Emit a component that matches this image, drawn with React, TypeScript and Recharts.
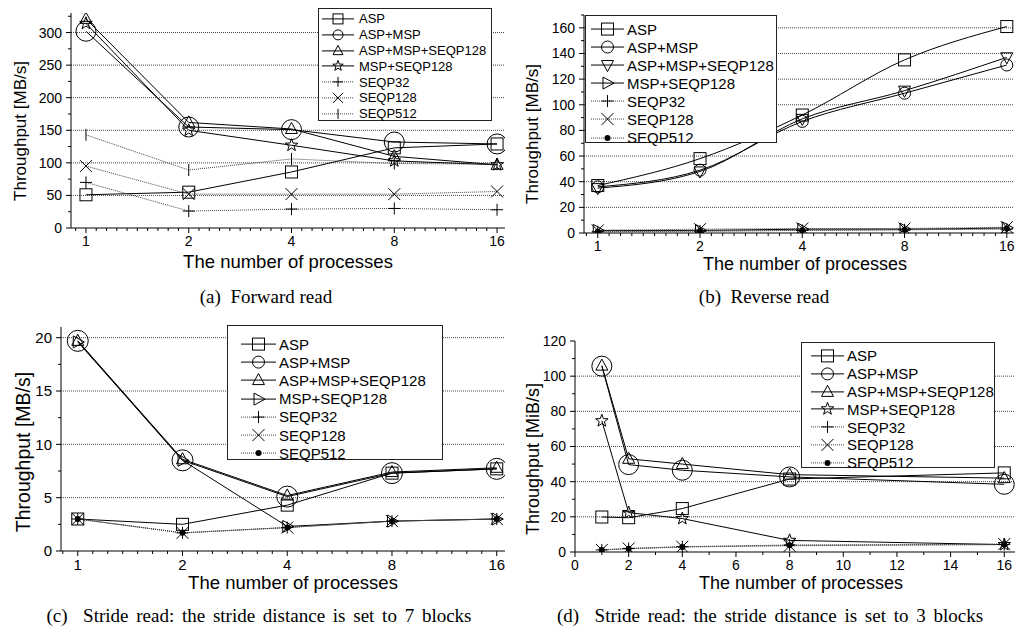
import React from 'react';
import { LineChart, Line, XAxis, YAxis, ReferenceLine } from 'recharts';

const PROCESSES = [1, 2, 4, 8, 16];
const SERIES_NAMES = ['ASP', 'ASP+MSP', 'ASP+MSP+SEQP128', 'MSP+SEQP128', 'SEQP32', 'SEQP128', 'SEQP512'];

// (a) forward read [MB/s]
const fwdAsp = [51, 55, 86, 123, 129];
const fwdAspMsp = [302, 155, 151, 132, 129];
const fwdAspMspSeq = [321, 162, 152, 110, 97];
const fwdMspSeq = [314, 150, 127, 103, 97];
const fwdSeq32 = [70, 26, 29, 30, 28];
const fwdSeq128 = [95, 52, 52, 52, 56];
const fwdSeq512 = [143, 89, 106, 99, 98];

// (b) reverse read [MB/s]
const revAsp = [37, 58, 92, 135, 161];
const revAspMsp = [36, 49, 87, 109, 131];
const revAspMspSeq = [35, 48, 89, 111, 137];
const revMspSeq = [2, 2, 3, 3, 4];
const revSeq32 = [1, 1.5, 2, 2.5, 3];
const revSeq128 = [2, 3, 3.5, 3.5, 4.5];
const revSeq512 = [1, 1.5, 2, 2.5, 3.5];

// (c) stride read, distance 7 blocks [MB/s]
const s7Asp = [3.0, 2.5, 4.3, 7.3, 7.7];
const s7AspMsp = [19.7, 8.5, 5.1, 7.3, 7.7];
const s7AspMspSeq = [19.7, 8.6, 5.2, 7.4, 7.8];
const s7MspSeq = [19.6, 8.5, 2.3, 2.8, 3.0];
const s7Seq32 = [3.0, 1.7, 2.2, 2.8, 3.0];
const s7Seq128 = [3.0, 1.7, 2.2, 2.8, 3.0];
const s7Seq512 = [3.0, 1.7, 2.2, 2.8, 3.0];

// (d) stride read, distance 3 blocks [MiB/s]
const s3Asp = [19.9, 19.5, 24.7, 41.5, 45];
const s3AspMsp = [105.7, 49.7, 46.5, 42.7, 38.5];
const s3AspMspSeq = [106, 53, 50, 44, 42];
const s3MspSeq = [74.6, 22.4, 19, 6.6, 4.2];
const s3Seq32 = [1.2, 2, 3, 4, 4.2];
const s3Seq128 = [1.2, 2, 3, 3.5, 4.5];
const s3Seq512 = [1.2, 1.8, 2.8, 3.8, 4.2];

const LOG_TICKS = [1, 2, 4, 8, 16];
const LIN_TICKS = [0, 2, 4, 6, 8, 10, 12, 14, 16];

const FONT = "'Liberation Sans', Arial, Helvetica, sans-serif";
const SERIF = "'Liberation Serif', 'Times New Roman', serif";

type Shape = 'square' | 'circle' | 'triUp' | 'triDown' | 'triRight' | 'star' | 'plus' | 'cross' | 'tick' | 'dot';

function Marker({ shape, cx, cy, s, r }: { shape: Shape; cx: number; cy: number; s: number; r: number }) {
  const st = { stroke: '#000', strokeWidth: 1, fill: 'none' };
  switch (shape) {
    case 'square':
      return <rect x={cx - s} y={cy - s} width={2 * s} height={2 * s} {...st} />;
    case 'circle':
      return <circle cx={cx} cy={cy} r={r} {...st} />;
    case 'triUp':
      return <polygon points={`${cx},${cy - s * 1.1} ${cx + s},${cy + s * 0.75} ${cx - s},${cy + s * 0.75}`} {...st} />;
    case 'triDown':
      return <polygon points={`${cx},${cy + s * 1.1} ${cx + s},${cy - s * 0.75} ${cx - s},${cy - s * 0.75}`} {...st} />;
    case 'triRight':
      return <polygon points={`${cx + s * 1.1},${cy} ${cx - s * 0.75},${cy - s} ${cx - s * 0.75},${cy + s}`} {...st} />;
    case 'star': {
      const pts: string[] = [];
      for (let i = 0; i < 10; i++) {
        const rad = i % 2 === 0 ? s * 1.1 : s * 0.45;
        const a = -Math.PI / 2 + (i * Math.PI) / 5;
        pts.push(`${cx + rad * Math.cos(a)},${cy + rad * Math.sin(a)}`);
      }
      return <polygon points={pts.join(' ')} {...st} />;
    }
    case 'plus':
      return <path d={`M${cx - s},${cy}H${cx + s}M${cx},${cy - s}V${cy + s}`} {...st} />;
    case 'cross':
      return <path d={`M${cx - s},${cy - s}L${cx + s},${cy + s}M${cx + s},${cy - s}L${cx - s},${cy + s}`} {...st} />;
    case 'tick':
      return <path d={`M${cx},${cy - s}V${cy + s}`} {...st} />;
    case 'dot':
      return <circle cx={cx} cy={cy} r={3} fill="#000" />;
  }
  return null;
}

function XTick(props: any) {
  const { x, y, payload, major, fs } = props;
  const isMajor = major.includes(payload.value);
  const ay = y - 8;
  return (
    <g>
      <line x1={x} x2={x} y1={ay} y2={ay + (isMajor ? 5 : 3)} stroke="#000" />
      {isMajor && (
        <text x={x} y={y} dy="0.71em" textAnchor="middle" fontSize={fs} fontFamily={FONT} fill="#000">
          {payload.value}
        </text>
      )}
    </g>
  );
}

function YTick(props: any) {
  const { x, y, payload, major, fs } = props;
  const isMajor = major.includes(payload.value);
  const ax = x + 9;
  return (
    <g>
      <line x1={ax - (isMajor ? 5 : 3)} x2={ax} y1={y} y2={y} stroke="#000" />
      {isMajor && (
        <text x={x} y={y} dy="0.355em" textAnchor="end" fontSize={fs} fontFamily={FONT} fill="#000">
          {payload.value}
        </text>
      )}
    </g>
  );
}

function logMinor(perOctave: number, lo: number, hi: number) {
  const out: number[] = [];
  for (let k = -1; k < 5; k++) {
    for (let j = 1; j < perOctave; j++) {
      const v = Math.pow(2, k + j / perOctave);
      if (v > lo && v < hi) out.push(v);
    }
  }
  return out;
}

type LegendBox = { left: number; top: number; width: number; height: number; padTop: number; rowH: number; lx0: number; lx1: number; textX: number; fontSize: number; ms: number; mr: number };
type Fonts = { tick: number; yLabel: number; xLabel: number };

type PanelProps = {
  x: number; y: number; w: number; h: number;
  margin: { top: number; right: number; bottom: number; left: number };
  logX: boolean; xDomain: [number, number]; xMajor: number[]; xMinor: number[];
  yDomain: [number, number]; yMajor: number[]; yMinor: number[]; grid: number[];
  series: number[][]; shapes: Shape[]; circleR: number; curve: 'linear' | 'monotone';
  legend: LegendBox; fonts: Fonts;
  yLabel: string; yLabelPos: [number, number]; xLabelPos: [number, number];
  caption: string; captionPos: [number, number]; wordSpacing: number;
};

function Panel(p: PanelProps) {
  const rows = PROCESSES.map((n, i) => {
    const r: Record<string, number> = { n };
    p.series.forEach((s, k) => { r['s' + k] = s[i]; });
    return r;
  });
  const lg = p.legend;
  return (
    <>
      <div style={{ position: 'absolute', left: p.x, top: p.y }}>
        <LineChart width={p.w} height={p.h} data={rows} margin={p.margin}>
          <XAxis dataKey="n" type="number" scale={p.logX ? 'log' : 'linear'} domain={p.xDomain} allowDataOverflow
            ticks={[...p.xMajor, ...p.xMinor]} interval={0} tickSize={4} tickMargin={4} tickLine={false}
            axisLine={{ stroke: '#000' }} height={22} tick={(t: any) => <XTick {...t} major={p.xMajor} fs={p.fonts.tick} />} />
          <YAxis type="number" domain={p.yDomain} allowDataOverflow ticks={[...p.yMajor, ...p.yMinor]} interval={0}
            width={46} tickSize={4} tickMargin={5} tickLine={false} axisLine={{ stroke: '#000' }}
            tick={(t: any) => <YTick {...t} major={p.yMajor} fs={p.fonts.tick} />} />
          {p.grid.map((v) => (
            <ReferenceLine key={v} y={v} stroke="#444" strokeDasharray="1 1" />
          ))}
          {p.series.map((_, k) => {
            const dotted = k >= 4;
            return (
              <Line key={k} dataKey={'s' + k} name={SERIES_NAMES[k]} type={dotted ? 'linear' : p.curve}
                stroke={dotted ? '#444' : '#000'} strokeWidth={1} strokeDasharray={dotted ? '1 1' : undefined}
                isAnimationActive={false} activeDot={false}
                dot={(d: any) => (
                  <g key={`d${k}-${d.index}`}>
                    <Marker shape={p.shapes[k]} cx={d.cx} cy={d.cy} s={6} r={p.circleR} />
                  </g>
                )} />
            );
          })}
        </LineChart>
      </div>
      <div style={{ position: 'absolute', left: lg.left, top: lg.top, width: lg.width, height: lg.height, boxSizing: 'border-box',
        border: '1px solid #222', background: '#fff', paddingTop: lg.padTop, fontFamily: FONT, fontSize: lg.fontSize }}>
        {SERIES_NAMES.map((name, k) => {
          const dotted = k >= 4;
          const mid = (lg.lx0 + lg.lx1) / 2;
          return (
            <div key={name} style={{ height: lg.rowH, display: 'flex', alignItems: 'center', whiteSpace: 'nowrap' }}>
              <svg width={lg.textX} height={lg.rowH} style={{ flex: 'none' }}>
                <line x1={lg.lx0} x2={lg.lx1} y1={lg.rowH / 2} y2={lg.rowH / 2} stroke={dotted ? '#444' : '#000'}
                  strokeDasharray={dotted ? '1 1' : undefined} />
                <Marker shape={p.shapes[k]} cx={mid} cy={lg.rowH / 2} s={lg.ms} r={lg.mr} />
              </svg>
              <span>{name}</span>
            </div>
          );
        })}
      </div>
      <div style={{ position: 'absolute', left: p.yLabelPos[0], top: p.yLabelPos[1], transform: 'translate(-50%, -50%) rotate(-90deg)',
        fontFamily: FONT, fontSize: p.fonts.yLabel, whiteSpace: 'nowrap' }}>{p.yLabel}</div>
      <div style={{ position: 'absolute', left: p.xLabelPos[0], top: p.xLabelPos[1], transform: 'translate(-50%, -50%)',
        fontFamily: FONT, fontSize: p.fonts.xLabel, lineHeight: 1, whiteSpace: 'nowrap' }}>The number of processes</div>
      <div style={{ position: 'absolute', left: p.captionPos[0], top: p.captionPos[1], transform: 'translate(-50%, -50%)',
        fontFamily: SERIF, fontSize: 19, whiteSpace: 'pre', wordSpacing: p.wordSpacing }}>{p.caption}</div>
    </>
  );
}

export default function App() {
  const range = (a: number, b: number, step: number) => {
    const out: number[] = [];
    for (let v = a; v <= b + 1e-9; v += step) out.push(v);
    return out;
  };
  return (
    <div style={{ position: 'absolute', left: 0, top: 0, width: 1016, height: 632, background: '#fff', overflow: 'hidden' }}>
      <Panel x={0} y={0} w={508} h={250} margin={{ top: 13, right: 3, bottom: 0, left: 25 }}
        logX xDomain={[0.904, 16.88]} xMajor={LOG_TICKS} xMinor={logMinor(10, 0.904, 16.88)}
        yDomain={[0, 330]} yMajor={range(0, 300, 50)} yMinor={range(25, 325, 50)} grid={range(50, 300, 50)}
        series={[fwdAsp, fwdAspMsp, fwdAspMspSeq, fwdMspSeq, fwdSeq32, fwdSeq128, fwdSeq512]}
        shapes={['square', 'circle', 'triUp', 'star', 'plus', 'cross', 'tick']} circleR={10} curve="linear"
        legend={{ left: 318, top: 8, width: 174, height: 113, padTop: 2, rowH: 15.8, lx0: 3, lx1: 35, textX: 40, fontSize: 13, ms: 5, mr: 5 }}
        fonts={{ tick: 14, yLabel: 17, xLabel: 18.5 }}
        yLabel="Throughput [MB/s]" yLabelPos={[21, 131]} xLabelPos={[288, 262]}
        caption="(a)  Forward read" captionPos={[266, 297]} wordSpacing={0} />
      <Panel x={508} y={0} w={508} h={255} margin={{ top: 15, right: 2, bottom: 0, left: 30 }}
        logX xDomain={[0.911, 16.8]} xMajor={LOG_TICKS} xMinor={logMinor(9, 0.911, 16.8)}
        yDomain={[0, 170]} yMajor={range(0, 160, 20)} yMinor={range(10, 170, 20)} grid={range(20, 160, 20)}
        series={[revAsp, revAspMsp, revAspMspSeq, revMspSeq, revSeq32, revSeq128, revSeq512]}
        shapes={['square', 'circle', 'triDown', 'triRight', 'plus', 'cross', 'dot']} circleR={6} curve="monotone"
        legend={{ left: 585, top: 15, width: 192, height: 128, padTop: 4, rowH: 18.1, lx0: 5, lx1: 38, textX: 41, fontSize: 15, ms: 6, mr: 6 }}
        fonts={{ tick: 14, yLabel: 17, xLabel: 18 }}
        yLabel="Throughput [MB/s]" yLabelPos={[533, 134]} xLabelPos={[805, 264]}
        caption="(b)  Reverse read" captionPos={[764, 297]} wordSpacing={0} />
      <Panel x={0} y={305} w={508} h={270} margin={{ top: 22, right: 3, bottom: 2, left: 15 }}
        logX xDomain={[0.895, 16.9]} xMajor={LOG_TICKS} xMinor={logMinor(7, 0.895, 16.9)}
        yDomain={[0, 21]} yMajor={range(0, 20, 5)} yMinor={range(2.5, 17.5, 5)} grid={range(5, 20, 5)}
        series={[s7Asp, s7AspMsp, s7AspMspSeq, s7MspSeq, s7Seq32, s7Seq128, s7Seq512]}
        shapes={['square', 'circle', 'triUp', 'triRight', 'plus', 'cross', 'dot']} circleR={10.5} curve="linear"
        legend={{ left: 227, top: 325, width: 216, height: 135, padTop: 9, rowH: 18.2, lx0: 13, lx1: 48, textX: 51, fontSize: 15, ms: 6, mr: 6 }}
        fonts={{ tick: 15, yLabel: 19.5, xLabel: 18.5 }}
        yLabel="Throughput [MB/s]" yLabelPos={[23, 452]} xLabelPos={[293, 583]}
        caption="(c)  Stride read: the stride distance is set to 7 blocks" captionPos={[259, 616]} wordSpacing={3} />
      <Panel x={508} y={305} w={508} h={270} margin={{ top: 36, right: 1, bottom: 1, left: 21 }}
        logX={false} xDomain={[0, 16.4]} xMajor={LIN_TICKS} xMinor={range(1, 15, 2)}
        yDomain={[0, 120]} yMajor={range(0, 120, 20)} yMinor={range(10, 110, 20)} grid={range(20, 100, 20)}
        series={[s3Asp, s3AspMsp, s3AspMspSeq, s3MspSeq, s3Seq32, s3Seq128, s3Seq512]}
        shapes={['square', 'circle', 'triUp', 'star', 'plus', 'cross', 'dot']} circleR={10} curve="linear"
        legend={{ left: 801, top: 342, width: 194, height: 126, padTop: 4, rowH: 17.8, lx0: 9, lx1: 42, textX: 45, fontSize: 15, ms: 6, mr: 6 }}
        fonts={{ tick: 14, yLabel: 18, xLabel: 18 }}
        yLabel="Throughput [MiB/s]" yLabelPos={[533, 459]} xLabelPos={[801, 583]}
        caption="(d)  Stride read: the stride distance is set to 3 blocks" captionPos={[770, 616]} wordSpacing={3} />
    </div>
  );
}
